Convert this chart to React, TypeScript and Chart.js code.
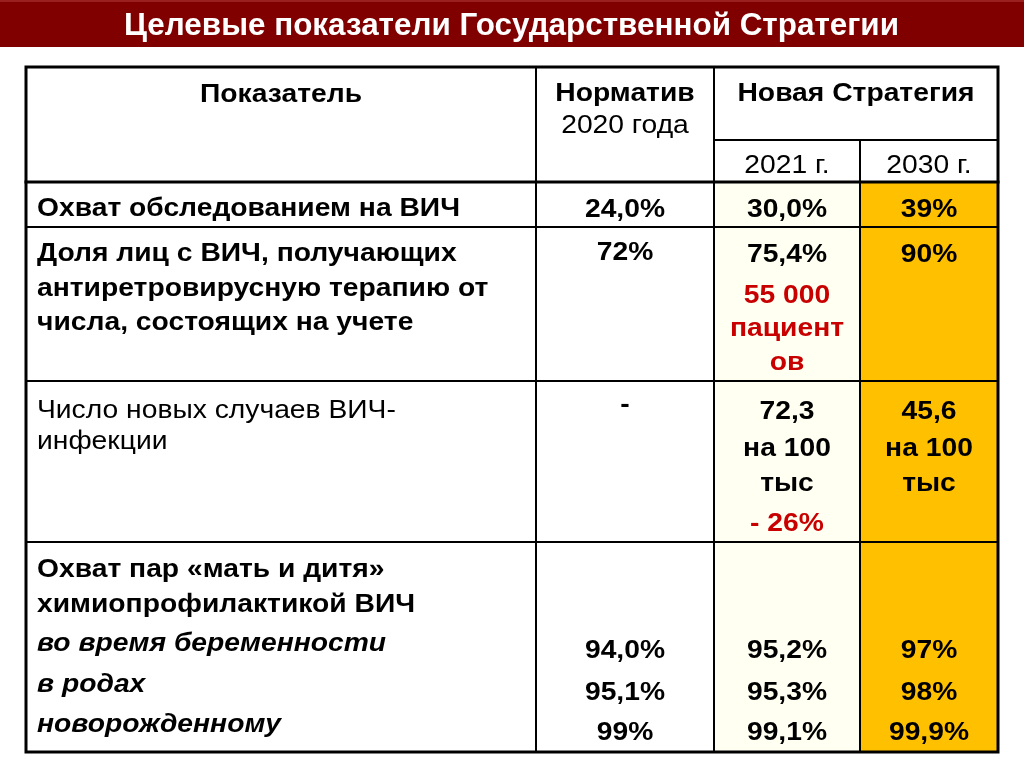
import React, { useEffect, useRef } from "react";
import { Chart, registerables } from "chart.js";

Chart.register(...registerables);

// ---------- DATA ----------
const title = "Целевые показатели Государственной Стратегии";
const headIndicator = ["Показатель"];
const headNorm = ["Норматив", "2020 года"];
const headStrategy = ["Новая Стратегия"];
const headYears = ["2021 г.", "2030 г."];

const indicators = [
  ["Охват обследованием на ВИЧ"],
  ["Доля лиц с ВИЧ, получающих", "антиретровирусную терапию от", "числа, состоящих на учете"],
  ["Число новых случаев ВИЧ-", "инфекции"],
  ["Охват пар «мать и дитя»", "химиопрофилактикой ВИЧ", "во время беременности", "в родах", "новорожденному"],
];
const norm2020 = [["24,0%"], ["72%"], ["-"], ["94,0%", "95,1%", "99%"]];
const strategy2021 = [
  ["30,0%"],
  ["75,4%", "55 000", "пациент", "ов"],
  ["72,3", "на 100", "тыс", "- 26%"],
  ["95,2%", "95,3%", "99,1%"],
];
const strategy2030 = [["39%"], ["90%"], ["45,6", "на 100", "тыс"], ["97%", "98%", "99,9%"]];

// ---------- STYLE / LAYOUT ----------
const FONT = '"Liberation Sans", Arial, Helvetica, sans-serif';
const TITLE_FONT = '"Liberation Sans Narrow", "Arial Narrow", "Liberation Sans", sans-serif';
const SIZE = 25;
const SX = 1.13;
const RED = "#c80000";
const HEADER_BG = "#800000";
const COL3_BG = "#fffff2";
const COL4_BG = "#ffc000";

const COLS = [26, 536, 714, 860, 998];
const HEAD_TOP = 67;
const HEAD_SPLIT = 140;
const ROW_EDGES = [182, 227, 381, 542, 752];
const LABEL_X = 37;

const labelBaselines = [[216], [261, 296, 330], [418, 449], [577, 612, 651, 692, 732]];
const normBaselines = [[217], [260], [412], [658, 700, 740]];
const s2021Baselines = [[217], [262, 303, 336, 370], [419, 456, 491, 531], [658, 700, 740]];
const s2030Baselines = [[217], [262], [419, 456, 491], [658, 700, 740]];

// style selectors (row, line) -> style
const labelStyle = (r: number, l: number) => {
  if (r === 2) return "normal";
  if (r === 3 && l >= 2) return "italic bold";
  return "bold";
};
const s2021Red = (r: number, l: number) => (r === 1 && l >= 1) || (r === 2 && l === 3);

function txt(
  ctx: CanvasRenderingContext2D,
  s: string,
  x: number,
  y: number,
  align: CanvasTextAlign,
  style: string,
  color = "#000"
) {
  ctx.save();
  ctx.font = `${style} ${SIZE}px ${FONT}`;
  ctx.fillStyle = color;
  ctx.textAlign = align;
  ctx.textBaseline = "alphabetic";
  ctx.translate(x, y);
  ctx.scale(SX, 1);
  ctx.fillText(s, 0, 0);
  ctx.restore();
}

function line(ctx: CanvasRenderingContext2D, x1: number, y1: number, x2: number, y2: number, w: number) {
  ctx.save();
  ctx.strokeStyle = "#000";
  ctx.lineWidth = w;
  ctx.lineCap = "square";
  ctx.beginPath();
  ctx.moveTo(x1, y1);
  ctx.lineTo(x2, y2);
  ctx.stroke();
  ctx.restore();
}

const tablePlugin = {
  id: "tablePlugin",
  afterDraw(chart: Chart) {
    const ctx = chart.ctx;
    const W = chart.width;
    ctx.save();
    ctx.fillStyle = "#ffffff";
    ctx.fillRect(0, 0, W, chart.height);
    // header bar
    ctx.fillStyle = HEADER_BG;
    ctx.fillRect(0, 0, W, 47);
    ctx.fillStyle = "#9a2020";
    ctx.fillRect(0, 0, W, 2);
    // title
    ctx.font = `bold 31px ${TITLE_FONT}`;
    const tw = ctx.measureText(title).width;
    ctx.translate(511.5, 35);
    ctx.scale(775 / tw, 1);
    ctx.fillStyle = "#ffffff";
    ctx.textAlign = "center";
    ctx.textBaseline = "alphabetic";
    ctx.fillText(title, 0, 0);
    ctx.restore();

    const top = ROW_EDGES[0];
    const bottom = ROW_EDGES[ROW_EDGES.length - 1];
    // cell backgrounds
    ctx.fillStyle = COL3_BG;
    ctx.fillRect(COLS[2], top, COLS[3] - COLS[2], bottom - top);
    ctx.fillStyle = COL4_BG;
    ctx.fillRect(COLS[3], top, COLS[4] - COLS[3], bottom - top);

    const c1 = (COLS[0] + COLS[1]) / 2;
    const c2 = (COLS[1] + COLS[2]) / 2;
    const c3 = (COLS[2] + COLS[3]) / 2;
    const c4 = (COLS[3] + COLS[4]) / 2;
    const c34 = (COLS[2] + COLS[4]) / 2;
    txt(ctx, headIndicator[0], c1, 102, "center", "bold");
    txt(ctx, headNorm[0], c2, 101, "center", "bold");
    txt(ctx, headNorm[1], c2, 133, "center", "normal");
    txt(ctx, headStrategy[0], c34, 101, "center", "bold");
    txt(ctx, headYears[0], c3, 173, "center", "normal");
    txt(ctx, headYears[1], c4, 173, "center", "normal");

    indicators.forEach((lines, r) =>
      lines.forEach((s, l) => txt(ctx, s, LABEL_X, labelBaselines[r][l], "left", labelStyle(r, l)))
    );
    norm2020.forEach((lines, r) =>
      lines.forEach((s, l) => txt(ctx, s, c2, normBaselines[r][l], "center", "bold"))
    );
    strategy2021.forEach((lines, r) =>
      lines.forEach((s, l) =>
        txt(ctx, s, c3, s2021Baselines[r][l], "center", "bold", s2021Red(r, l) ? RED : "#000")
      )
    );
    strategy2030.forEach((lines, r) =>
      lines.forEach((s, l) => txt(ctx, s, c4, s2030Baselines[r][l], "center", "bold"))
    );

    // grid lines
    line(ctx, COLS[2], HEAD_SPLIT, COLS[4], HEAD_SPLIT, 2);
    line(ctx, COLS[3], HEAD_SPLIT, COLS[3], bottom, 2);
    line(ctx, COLS[1], HEAD_TOP, COLS[1], bottom, 2);
    line(ctx, COLS[2], HEAD_TOP, COLS[2], bottom, 2);
    ROW_EDGES.slice(1, -1).forEach((y) => line(ctx, COLS[0], y, COLS[4], y, 2));
    line(ctx, COLS[0], ROW_EDGES[0], COLS[4], ROW_EDGES[0], 3);
    ctx.save();
    ctx.strokeStyle = "#000";
    ctx.lineWidth = 3;
    ctx.strokeRect(COLS[0], HEAD_TOP, COLS[4] - COLS[0], bottom - HEAD_TOP);
    ctx.restore();
  },
};

export default function App() {
  const ref = useRef<HTMLCanvasElement | null>(null);
  useEffect(() => {
    if (!ref.current) return;
    const chart = new Chart(ref.current, {
      type: "bar",
      data: { labels: indicators.map((l) => l.join(" ")), datasets: [] },
      options: {
        responsive: false,
        animation: false,
        devicePixelRatio: 1,
        layout: { padding: 0 },
        plugins: { legend: { display: false }, tooltip: { enabled: false }, title: { display: false } },
        scales: { x: { display: false }, y: { display: false } },
      },
      plugins: [tablePlugin],
    });
    return () => chart.destroy();
  }, []);
  return (
    <div style={{ position: "absolute", left: 0, top: 0, width: 1024, height: 767, background: "#fff" }}>
      <canvas ref={ref} width={1024} height={767} style={{ display: "block" }} />
    </div>
  );
}
